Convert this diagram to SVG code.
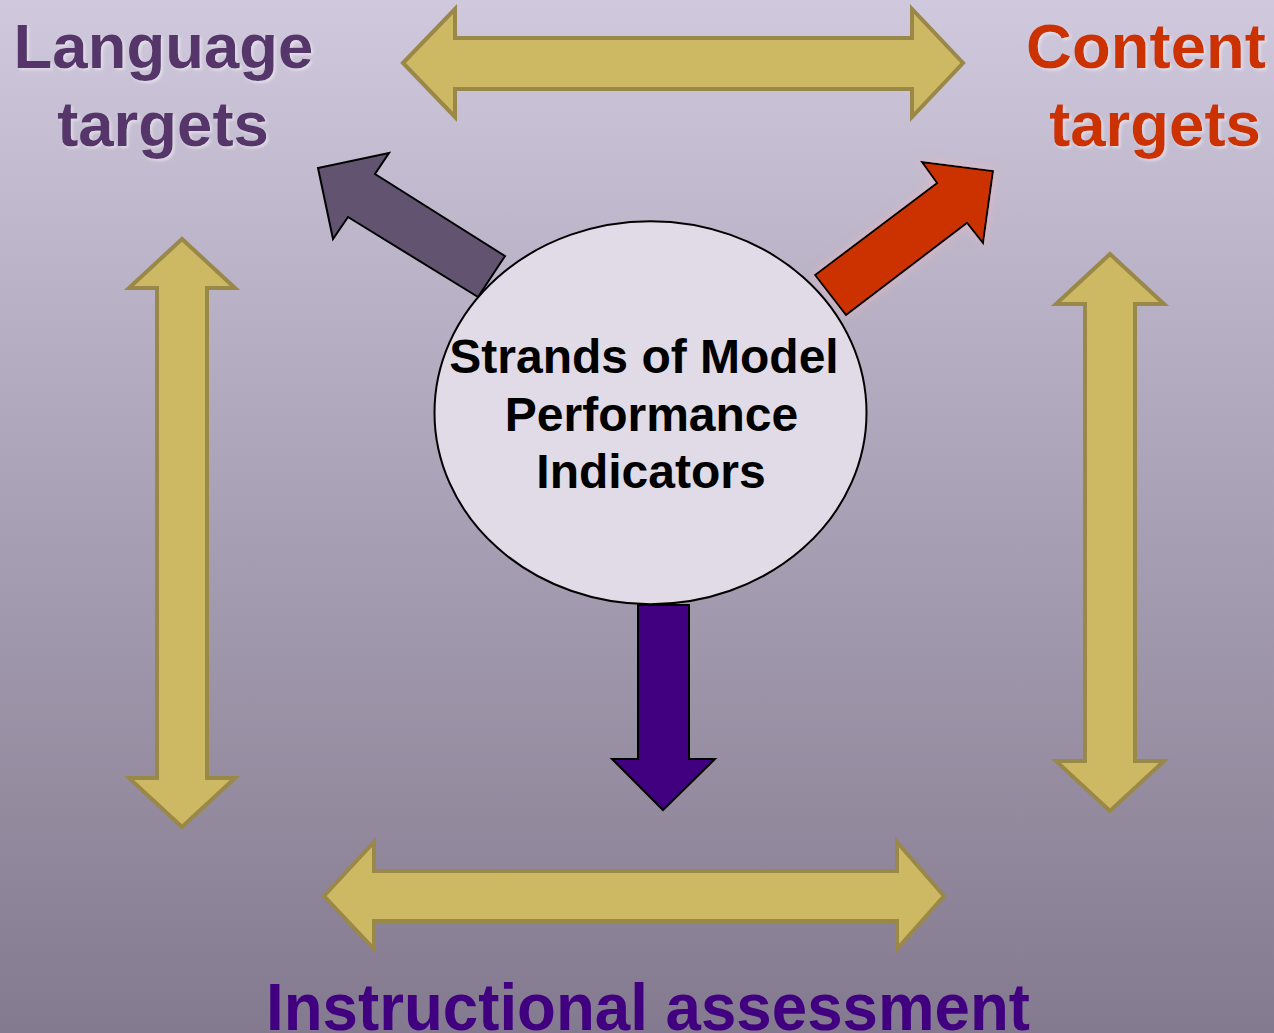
<svg xmlns="http://www.w3.org/2000/svg" width="1274" height="1033" viewBox="0 0 1274 1033">
  <defs>
    <linearGradient id="bg" x1="0" y1="0" x2="0" y2="1">
      <stop offset="0" stop-color="#d0c8dc"/>
      <stop offset="0.5" stop-color="#a8a0b4"/>
      <stop offset="1" stop-color="#847a8f"/>
    </linearGradient>
    <filter id="tshadow" x="-10%" y="-20%" width="120%" height="140%">
      <feDropShadow dx="2" dy="2" stdDeviation="1.5" flood-color="#ffffff" flood-opacity="0.45"/>
    </filter>
    <filter id="glow" x="-20%" y="-20%" width="140%" height="140%">
      <feGaussianBlur in="SourceAlpha" stdDeviation="5" result="b"/>
      <feFlood flood-color="#f2b8c0" flood-opacity="0.7"/>
      <feComposite in2="b" operator="in" result="g"/>
      <feMerge><feMergeNode in="g"/><feMergeNode in="SourceGraphic"/></feMerge>
    </filter>
  </defs>
  <style>
    .gold { fill: #cdb864; stroke: #9a8848; stroke-width: 4; stroke-linejoin: miter; }
    .blk { stroke: #000000; stroke-width: 2; stroke-linejoin: miter; }
    .lbl { font-family: "Liberation Sans", Arial, sans-serif; font-weight: bold; text-anchor: middle; }
    .center { font-size: 48px; fill: #000000; }
    .big { font-size: 63.5px; }
  </style>
  <rect x="0" y="0" width="1274" height="1033" fill="url(#bg)"/>

  <g id="connectors">
    <polygon id="arrow-top" class="gold" points="403,63 455,9 455,38 912,38 912,9 963,63 912,117 912,89 455,89 455,117"/>
    <polygon id="arrow-bottom" class="gold" points="324,896 374,842 374,871 897,871 897,842 944,896 897,949 897,921 374,921 374,949"/>
    <polygon id="arrow-left" class="gold" points="182,239 235,288 207,288 207,778 235,778 182,827 129,778 157,778 157,288 129,288"/>
    <polygon id="arrow-right" class="gold" points="1110,254 1164,304 1135,304 1135,761 1164,761 1110,811 1056,761 1085,761 1085,304 1056,304"/>
    <polygon id="arrow-language" class="blk" fill="#625470" points="505,256 375,174 389,153 318,168 333,239 348,217 478,297"/>
    <polygon id="arrow-content" class="blk" fill="#cc3300" filter="url(#glow)" points="815,275 937,183 922,162 993,171 983,243 967,223 846,315"/>
    <polygon id="arrow-assessment" class="blk" fill="#400080" points="638,605 689,605 689,759 715,759 663,810 612,759 638,759"/>
  </g>

  <g id="node-center">
    <ellipse cx="650.5" cy="412.7" rx="216" ry="191.5" fill="#e0dbe6" stroke="#000000" stroke-width="2"/>
    <text class="lbl center" x="644" y="373">Strands of Model</text>
    <text class="lbl center" x="651.5" y="431">Performance</text>
    <text class="lbl center" x="651" y="488">Indicators</text>
  </g>

  <g id="node-language" filter="url(#tshadow)" fill="#56366b">
    <text class="lbl big" x="163.5" y="68">Language</text>
    <text class="lbl big" x="163" y="146">targets</text>
  </g>

  <g id="node-content" filter="url(#tshadow)" fill="#cc3300">
    <text class="lbl big" x="1146" y="68">Content</text>
    <text class="lbl big" x="1155" y="146">targets</text>
  </g>

  <g id="node-assessment">
    <text class="lbl" x="648" y="1030" font-size="66" fill="#400080" textLength="764" lengthAdjust="spacingAndGlyphs">Instructional assessment</text>
  </g>
</svg>
